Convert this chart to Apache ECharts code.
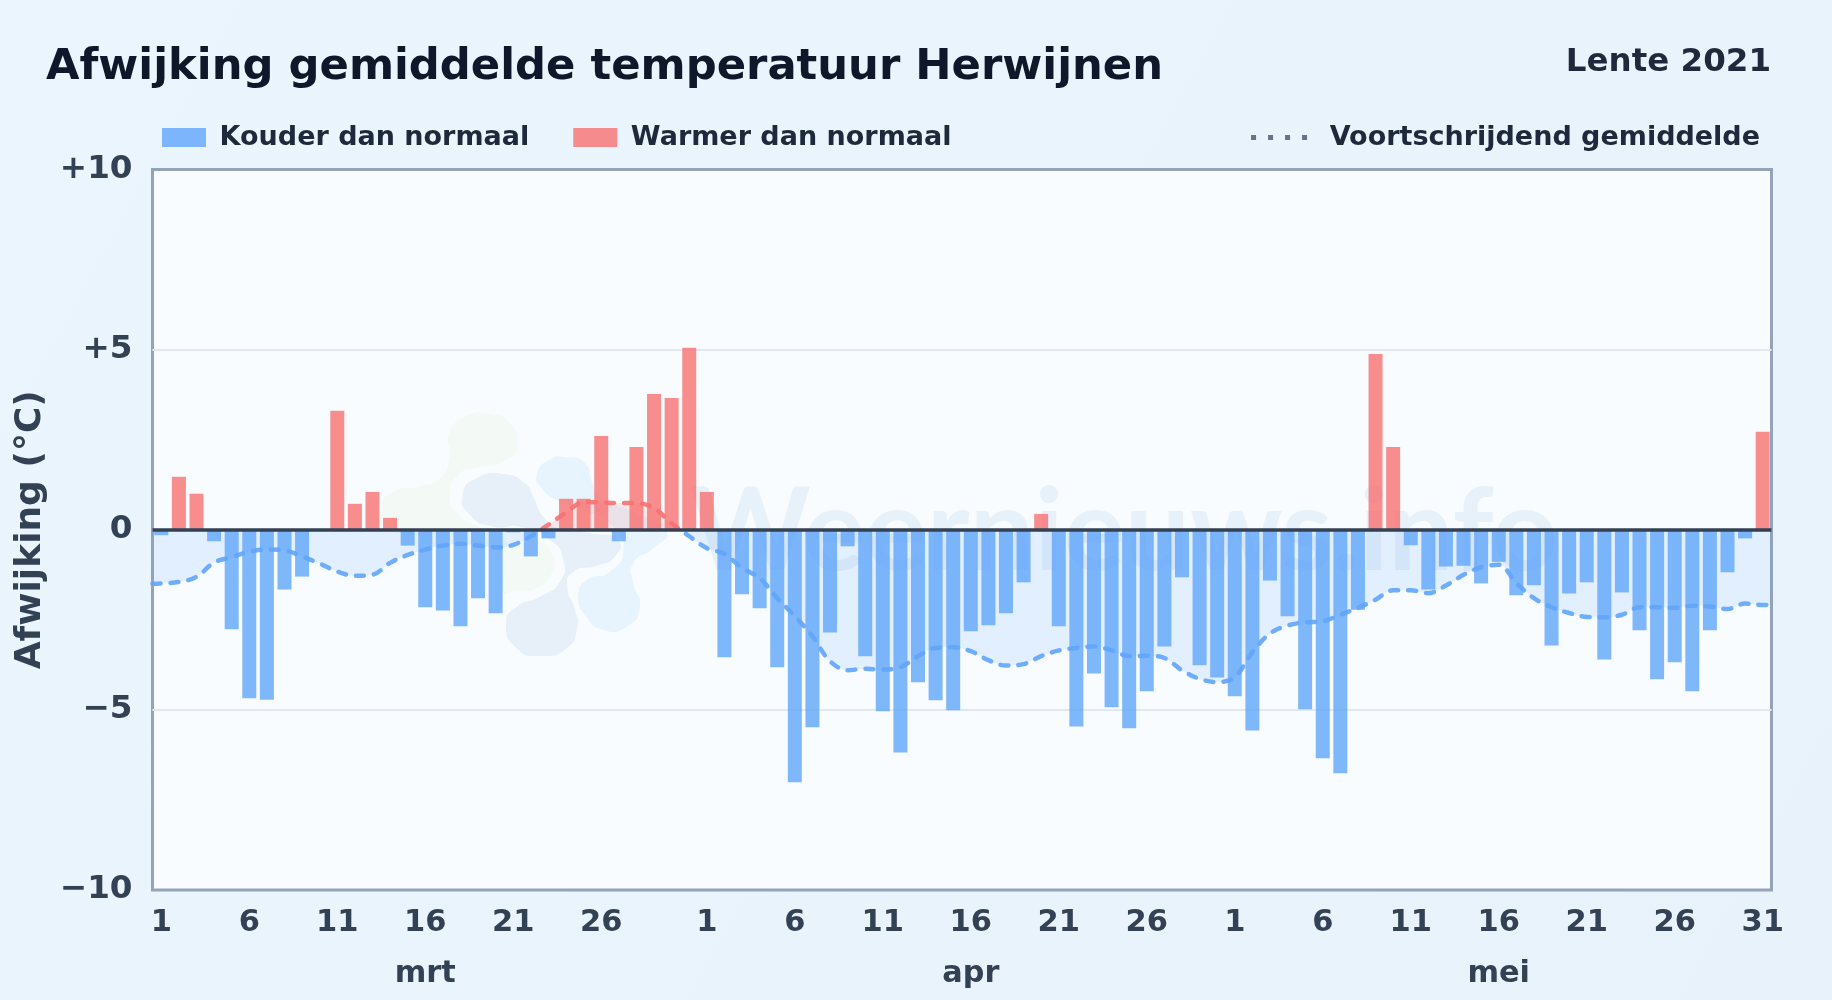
<!DOCTYPE html>
<html>
<head>
<meta charset="utf-8">
<title>Afwijking gemiddelde temperatuur Herwijnen</title>
<style>
html,body{margin:0;padding:0;width:1832px;height:1000px;overflow:hidden;background:#e9f3fc}
#chart{width:1832px;height:1000px}
</style>
<script src="https://cdn.jsdelivr.net/npm/echarts@6/dist/echarts.min.js"></script>
</head>
<body>
<div id="chart"></div>
<script>
const chartTitle = 'Afwijking gemiddelde temperatuur Herwijnen';
const chartSubtitle = 'Lente 2021';
const seriesNames = ['Kouder dan normaal', 'Warmer dan normaal', 'Voortschrijdend gemiddelde'];
const yAxisName = 'Afwijking (°C)';
const months = ['mrt', 'apr', 'mei'];
const monthLengths = [31, 30, 31];
const monthLabelIndex = [15, 46, 76];
const tickIndex = [0,5,10,15,20,25, 31,36,41,46,51,56, 61,66,71,76,81,86,91];

const afwijkingMrt = [-0.15,1.47,1.0,-0.32,-2.76,-4.68,-4.72,-1.66,-1.3,0,3.3,0.72,1.05,0.33,-0.44,-2.15,-2.24,-2.68,-1.9,-2.32,-0.07,-0.74,-0.24,0.86,0.86,2.6,-0.32,2.3,3.77,3.66,5.05];
const afwijkingApr = [1.05,-3.54,-1.79,-2.18,-3.82,-7.01,-5.48,-2.85,-0.46,-3.51,-5.04,-6.18,-4.23,-4.73,-5.01,-2.82,-2.65,-2.32,-1.46,0.44,-2.68,-5.46,-3.99,-4.93,-5.51,-4.48,-3.24,-1.32,-3.76,-4.1];
const afwijkingMei = [-4.62,-5.57,-1.41,-2.4,-4.98,-6.34,-6.76,-2.22,4.88,2.3,-0.43,-1.66,-1.02,-1.0,-1.49,-0.89,-1.82,-1.54,-3.21,-1.77,-1.46,-3.6,-1.74,-2.79,-4.15,-3.68,-4.48,-2.79,-1.18,-0.24,2.72];

const gemiddeldeMrt = [-1.49,-1.45,-1.31,-0.91,-0.76,-0.61,-0.55,-0.57,-0.74,-0.94,-1.16,-1.28,-1.25,-0.92,-0.70,-0.55,-0.44,-0.39,-0.44,-0.49,-0.42,-0.18,0.14,0.48,0.77,0.76,0.74,0.74,0.6,0.18,-0.18];
const gemiddeldeApr = [-0.51,-0.67,-1.06,-1.34,-1.90,-2.40,-2.96,-3.65,-3.90,-3.86,-3.88,-3.82,-3.51,-3.28,-3.26,-3.37,-3.62,-3.77,-3.73,-3.51,-3.35,-3.28,-3.24,-3.35,-3.51,-3.50,-3.56,-3.90,-4.14,-4.23];
const gemiddeldeMei = [-4.09,-3.4,-2.88,-2.66,-2.57,-2.54,-2.36,-2.17,-1.94,-1.68,-1.68,-1.76,-1.55,-1.25,-1.04,-0.97,-1.48,-1.90,-2.15,-2.31,-2.42,-2.43,-2.36,-2.15,-2.15,-2.17,-2.11,-2.13,-2.20,-2.05,-2.09];
const gemiddeldeBeginRand = -1.5;
const gemiddeldeEindRand = -2.08;

const FONT = '"DejaVu Sans"';
const afwijking = [...afwijkingMrt, ...afwijkingApr, ...afwijkingMei];
const gemiddelde = [...gemiddeldeMrt, ...gemiddeldeApr, ...gemiddeldeMei];
const categories = [];
monthLengths.forEach(function (n) { for (let d = 1; d <= n; d++) categories.push(String(d)); });
const lastIdx = categories.length - 1;

const lineData = [[-0.5, gemiddeldeBeginRand]]
  .concat(gemiddelde.map(function (v, i) { return [i, v]; }))
  .concat([[lastIdx + 0.5, gemiddeldeEindRand]]);

const GRID = { left: 152.5, right: 60.5, top: 169.5, bottom: 110 };
/* Hard colour change at the zero level, which is the vertical middle of the plot (-10..+10) */
const signGradient = {
  type: 'linear', global: true, x: 0, y: GRID.top, x2: 0, y2: 1000 - GRID.bottom,
  colorStops: [
    { offset: 0, color: '#f87171' }, { offset: 0.5, color: '#f87171' },
    { offset: 0.5, color: '#60a5fa' }, { offset: 1, color: '#60a5fa' }
  ]
};

/* Decorative watermark logo outlines (not data) */
const blob = function (points, fill) {
  return { type: 'polygon', silent: true, shape: { points: points, smooth: 0.6 }, style: { fill: fill } };
};
const logo = [
  blob([[238,100],[290,48],[360,42],[420,70],[442,140],[400,185],[330,202],[265,225],[240,290],[265,345],[320,385],[60,395],[35,320],[70,275],[150,258],[210,235],[238,170]], '#f3faf5'),
  blob([[396,440],[450,432],[510,425],[548,470],[545,520],[500,565],[440,572],[396,570]], '#f3faf5'),
  blob([[500,225],[540,178],[590,172],[645,190],[668,250],[700,300],[790,335],[890,395],[850,445],[790,490],[790,550],[810,620],[770,680],[700,690],[645,645],[625,590],[650,540],[720,515],[760,450],[730,380],[640,330],[560,300],[515,265]], '#e8f4fd'),
  blob([[278,285],[320,235],[400,222],[465,250],[490,290],[520,350],[570,385],[660,400],[745,420],[735,470],[680,497],[610,515],[592,560],[615,630],[622,680],[590,745],[510,768],[440,745],[408,670],[440,620],[510,590],[570,545],[580,480],[540,420],[450,380],[370,380],[300,345]], '#e7f0f8')
];

const chart = echarts.init(document.getElementById('chart'), null, { renderer: 'canvas' });
chart.setOption({
  animation: false,
  backgroundColor: new echarts.graphic.LinearGradient(0, 0, 1, 1, [
    { offset: 0, color: '#ebf5fd' }, { offset: 1, color: '#e8f2fb' }
  ]),
  textStyle: { fontFamily: FONT },
  title: [
    { text: chartTitle, left: 41, top: 41, textStyle: { fontFamily: FONT, fontWeight: 'bold', fontSize: 43.3, color: '#0f172a' } },
    { text: chartSubtitle, right: 56, top: 41, textStyle: { fontFamily: FONT, fontWeight: 'bold', fontSize: 32.5, color: '#1e293b' } }
  ],
  legend: [
    {
      left: 162, top: 124, padding: 0, icon: 'rect', itemWidth: 44, itemHeight: 19, itemGap: 44,
      data: [seriesNames[0], seriesNames[1]], selectedMode: false,
      textStyle: { fontFamily: FONT, fontWeight: 'bold', fontSize: 27, color: '#1e293b', padding: [0, 0, 0, 8.6] }
    },
    {
      right: 72, top: 124, padding: 0, itemWidth: 56, itemHeight: 5, selectedMode: false,
      data: [{ name: seriesNames[2], icon: 'path://M0 0h5v5h-5zM17 0h5v5h-5zM34 0h5v5h-5zM51 0h5v5h-5z', itemStyle: { color: '#64748b', opacity: 1 } }],
      textStyle: { fontFamily: FONT, fontWeight: 'bold', fontSize: 27, color: '#1e293b', padding: [0, 0, 0, 17.6] }
    }
  ],
  grid: Object.assign({ show: true, backgroundColor: '#f8fcff', borderColor: '#94a3b8', borderWidth: 3 }, GRID),
  xAxis: [
    {
      type: 'category', data: categories, position: 'bottom',
      axisLine: { show: false }, axisTick: { show: false }, splitLine: { show: false },
      axisLabel: {
        interval: function (i) { return tickIndex.indexOf(i) >= 0; },
        fontFamily: FONT, fontWeight: 'bold', fontSize: 30.5, color: '#334155', margin: 17.5, hideOverlap: false
      }
    },
    {
      type: 'category', data: categories, position: 'bottom', offset: 52,
      axisLine: { show: false }, axisTick: { show: false }, splitLine: { show: false },
      axisLabel: {
        interval: function (i) { return monthLabelIndex.indexOf(i) >= 0; },
        formatter: function (v, i) { return months[monthLabelIndex.indexOf(i)] || ''; },
        fontFamily: FONT, fontWeight: 'bold', fontSize: 30.3, color: '#334155', margin: 17.5, hideOverlap: false
      }
    },
    { type: 'value', show: false, min: -0.5, max: lastIdx + 0.5, splitLine: { show: false } }
  ],
  yAxis: {
    type: 'value', min: -10, max: 10, interval: 5,
    name: yAxisName, nameLocation: 'middle', nameRotate: 90, nameGap: 85,
    nameTextStyle: { fontFamily: FONT, fontWeight: 'bold', fontSize: 36, color: '#334155' },
    axisLine: { show: false }, axisTick: { show: false },
    splitLine: { showMinLine: false, showMaxLine: false, lineStyle: { color: '#e2e8f0', width: 2 } },
    axisLabel: {
      margin: 20,
      formatter: function (v) { return '{t|' + (v > 0 ? '+' + v : (v < 0 ? '\u2212' + Math.abs(v) : '0')) + '}'; },
      rich: { t: { fontFamily: FONT, fontWeight: 'bold', fontSize: 32.6, color: '#334155', lineHeight: 40, height: 40, verticalAlign: 'bottom' } }
    }
  },
  graphic: {
    z: 1,
    elements: [{
      type: 'group', x: 370, y: 400, scaleX: 1 / 3, scaleY: 1 / 3, silent: true,
      children: logo
    }, {
      type: 'text', x: 690, y: 475, silent: true,
      style: { text: 'Weernieuws.info', font: 'bold 115px Lato', fill: '#e7f1f9' }
    }]
  },
  series: [
    {
      name: seriesNames[0], type: 'bar', xAxisIndex: 0, barWidth: 14, barGap: '-100%', z: 2,
      itemStyle: { color: '#60a5fa', opacity: 0.8 },
      data: afwijking.map(function (v) { return v < 0 ? v : null; })
    },
    {
      name: seriesNames[1], type: 'bar', xAxisIndex: 0, barWidth: 14, barGap: '-100%', z: 2,
      itemStyle: { color: '#f87171', opacity: 0.8 },
      data: afwijking.map(function (v) { return v > 0 ? v : null; })
    },
    {
      name: seriesNames[2], type: 'line', xAxisIndex: 2, smooth: 0.35, showSymbol: false, z: 3,
      lineStyle: { color: signGradient, width: 4.5, type: [8, 10], cap: 'round', opacity: 0.9 },
      areaStyle: { color: signGradient, opacity: 0.15, origin: 0 },
      itemStyle: { color: '#60a5fa' },
      data: lineData,
      markLine: {
        silent: true, symbol: 'none', label: { show: false }, z: 4,
        lineStyle: { color: '#334155', width: 3.5, type: 'solid', opacity: 1 },
        data: [{ yAxis: 0 }]
      }
    }
  ]
});
</script>
</body>
</html>
